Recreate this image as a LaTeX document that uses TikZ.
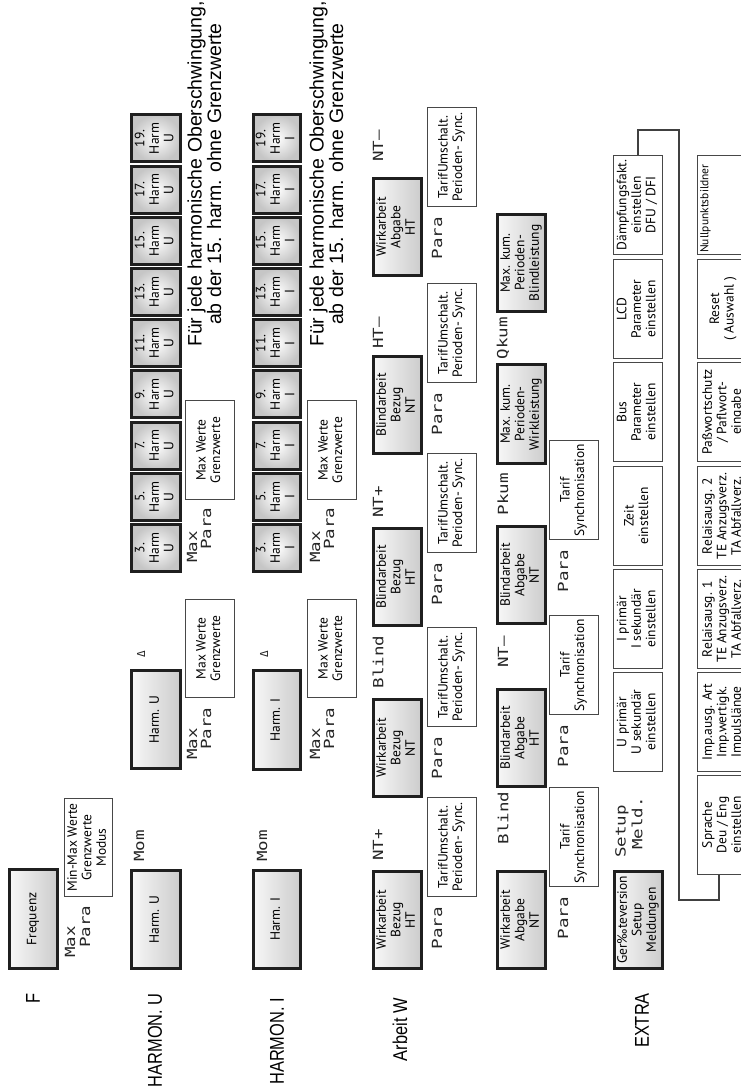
\documentclass[tikz,border=0pt]{standalone}
\usepackage{fontspec}
\usepackage{graphicx}
\setmainfont{PT Sans}
\newfontfamily\lblfont{Liberation Sans}
\newfontfamily\lcdfont{DejaVu Sans Mono}
\newcommand{\bt}[1]{\rotatebox{90}{\fontsize{13.5}{14.5}\selectfont\begin{tabular}{@{}c@{}}#1\end{tabular}}}
\newcommand{\lcdtxt}[1]{\rotatebox{90}{\lcdfont\fontsize{14}{14}\selectfont\scalebox{1.25}[1]{#1}}}
\newcommand{\lbltxt}[1]{\rotatebox{90}{\lblfont\fontsize{20}{22}\selectfont\scalebox{0.82}[1]{#1}}}
\newcommand{\BX}[8]{\node[#1, minimum width={(#5)-(#3)-(#7)}, minimum height={(#6)-(#4)-(#7)}] (#2) at ({((#3)+(#5))/2},{((#4)+(#6))/2}) {#8};}
\tikzset{
  gbox/.style={draw=black!88, line width=3pt, left color=gray!6, right color=gray!40, inner sep=0pt},
  hbox/.style={draw=black!88, line width=3pt, inner color=white, outer color=gray!45, inner sep=0pt},
  wbox/.style={draw=black!72, line width=1.1pt, fill=white, inner sep=0pt},
  lcd/.style={inner sep=0pt, text=black!85},
  lbl/.style={inner sep=0pt, anchor=north},
  conn/.style={draw=black!75, line width=1.1pt},
}
\begin{document}
\begin{tikzpicture}[x=1pt,y=-1pt]
\useasboundingbox (0,0) rectangle (741,1090);
\clip (0,0) rectangle (741,1090);
\fill[white] (0,0) rectangle (741,1090);
% row labels
\node[lbl] (lF) at (33,993) {\lbltxt{F}};
\node[lbl] (lU) at (155,993) {\lbltxt{HARMON. U}};
\node[lbl] (lI) at (277,998) {\lbltxt{HARMON. I}};
\node[lbl] (lW) at (400,998) {\lbltxt{Arbeit W}};
\node[lbl] (lE) at (642,993) {\lbltxt{EXTRA}};
% F row
\BX{gbox}{freq}{8}{868}{59}{970}{3}{\bt{Frequenz}}
\node[lcd,anchor=south] (fmax) at (70,958) {\lcdtxt{Max}};
\node[lcd,anchor=south] (fpara) at (85,948) {\lcdtxt{Para}};
\BX{wbox}{fmm}{64}{798}{113}{897}{1.1}{\bt{Min-Max Werte\\Grenzwerte\\Modus}}
% HARMON U
\BX{gbox}{hu1}{130}{869}{182}{970}{3}{\bt{Harm. U}}
\node[lcd] (umom) at (139,846) {\lcdtxt{Mom}};
\BX{gbox}{hu2}{130}{669}{182}{770}{3}{\bt{Harm. U}}
\node[lcd] (udel) at (141,654) {\rotatebox{90}{\lcdfont\fontsize{11}{11}\selectfont Δ}};
\node[lcd,anchor=south] (umax1) at (192,760) {\lcdtxt{Max}};
\node[lcd,anchor=south] (upara1) at (206,750) {\lcdtxt{Para}};
\BX{wbox}{umw1}{185}{599}{235}{698}{1.1}{\bt{Max Werte\\Grenzwerte}}
\foreach \n [count=\k from 0] in {3,5,...,19}{
  \BX{hbox}{hu\n}{130}{573-51.2*\k-50}{182}{573-51.2*\k}{3}{\bt{\n.\\Harm\\U}}
}
\node[lcd,anchor=south] (umax2) at (192,563) {\lcdtxt{Max}};
\node[lcd,anchor=south] (upara2) at (206,550) {\lcdtxt{Para}};
\BX{wbox}{umw2}{185}{400}{235}{500}{1.1}{\bt{Max Werte\\Grenzwerte}}
\node[inner sep=0pt] (ufj) at (207,174) {\rotatebox{90}{\lblfont\fontsize{19.5}{18}\selectfont\begin{tabular}{@{}c@{}}Für jede harmonische Oberschwingung,\\ab der 15. harm. ohne Grenzwerte\end{tabular}}};
% HARMON I
\BX{gbox}{hi1}{252}{869}{302}{970}{3}{\bt{Harm. I}}
\node[lcd] (imom) at (262,846) {\lcdtxt{Mom}};
\BX{gbox}{hi2}{252}{669}{302}{771}{3}{\bt{Harm. I}}
\node[lcd] (idel) at (264,654) {\rotatebox{90}{\lcdfont\fontsize{11}{11}\selectfont Δ}};
\node[lcd,anchor=south] (imax1) at (315,760) {\lcdtxt{Max}};
\node[lcd,anchor=south] (ipara1) at (329,750) {\lcdtxt{Para}};
\BX{wbox}{imw1}{307}{599}{357}{698}{1.1}{\bt{Max Werte\\Grenzwerte}}
\foreach \n [count=\k from 0] in {3,5,...,19}{
  \BX{hbox}{hi\n}{252}{573-51.2*\k-50}{302}{573-51.2*\k}{3}{\bt{\n.\\Harm\\I}}
}
\node[lcd,anchor=south] (imax2) at (315,563) {\lcdtxt{Max}};
\node[lcd,anchor=south] (ipara2) at (329,550) {\lcdtxt{Para}};
\BX{wbox}{imw2}{307}{400}{357}{500}{1.1}{\bt{Max Werte\\Grenzwerte}}
\node[inner sep=0pt] (ifj) at (329,174) {\rotatebox{90}{\lblfont\fontsize{19.5}{18}\selectfont\begin{tabular}{@{}c@{}}Für jede harmonische Oberschwingung,\\ab der 15. harm. ohne Grenzwerte\end{tabular}}};
% Arbeit W
\BX{gbox}{w1}{372}{870}{423}{970}{3}{\bt{Wirkarbeit\\Bezug\\HT}}
\BX{gbox}{w2}{372}{698}{423}{798}{3}{\bt{Wirkarbeit\\Bezug\\NT}}
\BX{gbox}{w3}{372}{527}{423}{627}{3}{\bt{Blindarbeit\\Bezug\\HT}}
\BX{gbox}{w4}{372}{355}{423}{455}{3}{\bt{Blindarbeit\\Bezug\\NT}}
\BX{gbox}{w5}{372}{177}{423}{277}{3}{\bt{Wirkarbeit\\Abgabe\\HT}}
\node[lcd] (wl1) at (378,845) {\lcdtxt{NT+}};
\node[lcd] (wl2) at (378,662) {\lcdtxt{Blind}};
\node[lcd] (wl3) at (378,502) {\lcdtxt{NT+}};
\node[lcd] (wl4) at (378,333) {\lcdtxt{HT–}};
\node[lcd] (wl5) at (378,146) {\lcdtxt{NT–}};
\foreach \yb [count=\k] in {897,727,553,383,207}{
  \BX{wbox}{wt\k}{427}{\yb-100}{477}{\yb}{1.1}{\bt{TarifUmschalt.\\Perioden- Sync.}}
  \node[lcd,anchor=north] (wp\k) at (437,\yb+10) {\lcdtxt{Para}};
}
% Blind row
\BX{gbox}{b1}{496}{870}{547}{970}{3}{\bt{Wirkarbeit\\Abgabe\\NT}}
\BX{gbox}{b2}{496}{688}{547}{788}{3}{\bt{Blindarbeit\\Abgabe\\HT}}
\BX{gbox}{b3}{496}{525}{547}{625}{3}{\bt{Blindarbeit\\Abgabe\\NT}}
\BX{gbox}{b4}{496}{363}{547}{465}{3}{\bt{Max. kum.\\Perioden-\\Wirkleistung}}
\BX{gbox}{b5}{496}{213}{547}{313}{3}{\bt{Max. kum.\\Perioden-\\Blindleistung}}
\node[lcd] (bl1) at (503,818) {\lcdtxt{Blind}};
\node[lcd] (bl2) at (503,652) {\lcdtxt{NT–}};
\node[lcd] (bl3) at (503,494) {\lcdtxt{Pkum}};
\node[lcd] (bl4) at (503,338) {\lcdtxt{Qkum}};
\foreach \yb [count=\k] in {887,715,540}{
  \BX{wbox}{bt\k}{549}{\yb-100}{599}{\yb}{1.1}{\bt{Tarif\\Synchronisation}}
  \node[lcd,anchor=north] (bp\k) at (563,\yb+10) {\lcdtxt{Para}};
}
% EXTRA
\BX{gbox}{e1}{613}{870}{664}{970}{3}{\bt{Ger‰teversion\\Setup\\Meldungen}}
\node[lcd,anchor=south] (esetup) at (622,858) {\lcdtxt{Setup}};
\node[lcd,anchor=south] (emeld) at (637,850) {\lcdtxt{Meld.}};
\BX{wbox}{eu}{613}{672}{663}{772}{1.1}{\bt{U primär\\U sekundär\\einstellen}}
\BX{wbox}{ei}{613}{569}{663}{669}{1.1}{\bt{I primär\\I sekundär\\einstellen}}
\BX{wbox}{ez}{613}{466}{663}{566}{1.1}{\bt{Zeit\\einstellen}}
\BX{wbox}{eb}{613}{362}{663}{462}{1.1}{\bt{Bus\\Parameter\\einstellen}}
\BX{wbox}{el}{613}{259}{663}{359}{1.1}{\bt{LCD\\Parameter\\einstellen}}
\BX{wbox}{daempf}{613}{155}{663}{255}{1.1}{\bt{Dämpfungsfakt.\\einstellen\\DFU / DFI}}
% last row
\BX{wbox}{sprache}{697}{775}{750}{875}{1.1}{\bt{Sprache\\Deu / Eng\\einstellen}}
\BX{wbox}{imp}{697}{672}{750}{772}{1.1}{\bt{Imp.ausg. Art\\Imp.wertigk.\\Impulslänge}}
\BX{wbox}{rel1}{697}{569}{750}{669}{1.1}{\bt{Relaisausg. 1\\TE Anzugsverz.\\TA Abfallverz.}}
\BX{wbox}{rel2}{697}{466}{750}{566}{1.1}{\bt{Relaisausg. 2\\TE Anzugsverz.\\TA Abfallverz.}}
\BX{wbox}{pass}{697}{362}{750}{462}{1.1}{\bt{Paßwortschutz\\/ Paflwort-\\eingabe}}
\BX{wbox}{reset}{697}{259}{750}{359}{1.1}{\bt{Reset\\( Auswahl )}}
\BX{wbox}{null}{697}{155}{750}{255}{1.1}{}
\node[inner sep=0pt,anchor=south west] (nulltxt) at (700,253) {\rotatebox{90}{\fontsize{11.5}{13}\selectfont Nullpunktsbildner}};
% connector
\coordinate (k1) at (679,130);
\coordinate (k2) at (679,900);
\coordinate (k3) at (719,900);
\draw[conn] (daempf.north) |- (k1) -- (k2) -- (k3) -- (k3 |- sprache.south);
\end{tikzpicture}
\end{document}
